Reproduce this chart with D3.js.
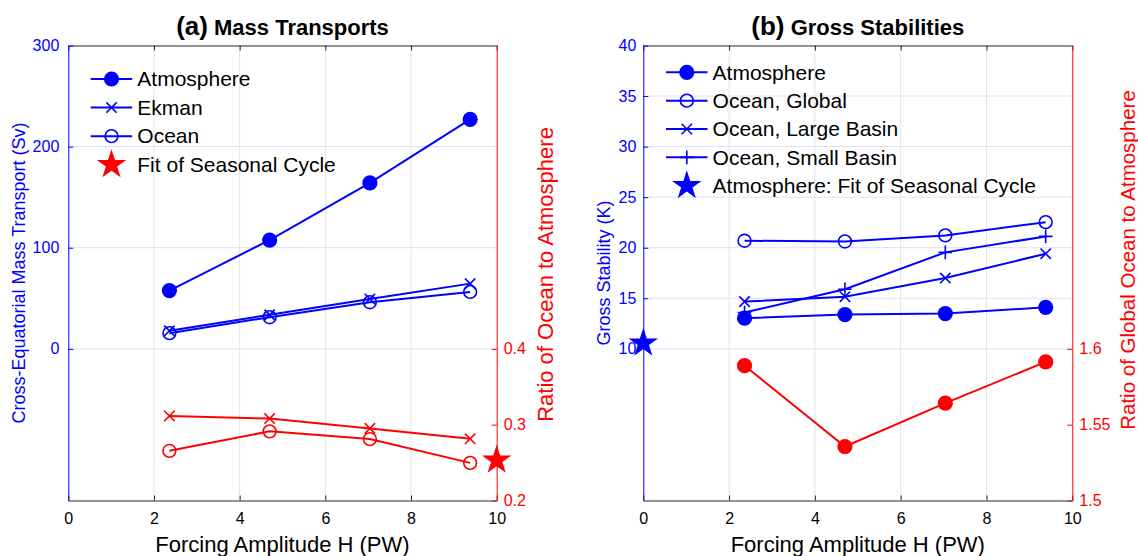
<!DOCTYPE html>
<html><head><meta charset="utf-8">
<script src="https://cdn.jsdelivr.net/npm/d3@7"></script>
<style>
body{margin:0;background:#fff}
svg{display:block}
text{font-family:"Liberation Sans",Arial,Helvetica,sans-serif}
</style>
</head><body>
<svg id="c" width="1138" height="556"></svg>
<script>
// ---------- data ----------
const forcingH = [2.36, 4.70, 7.04, 9.38];
const xTicks = [0, 2, 4, 6, 8, 10];

// panel (a) Mass Transports (Sv)
const atmTransport   = [57.6, 107.6, 164.1, 227.0];
const ekmanTransport = [17.8, 33.6, 49.3, 64.5];
const oceanTransport = [15.5, 31.3, 46.1, 56.3];
// ratios (right axis)
const ekmanRatio = [0.3115, 0.308, 0.2951, 0.2814];
const oceanRatio = [0.2655, 0.2912, 0.281, 0.2496];
const seasonalFitRatio = [{H: 10, v: 0.2531}];
const transportTicks = [0, 100, 200, 300];
const ratioTicksA = [0.2, 0.3, 0.4];

// panel (b) Gross Stabilities (K)
const atmStability         = [13.03, 13.39, 13.49, 14.11];
const oceanGlobalStability = [20.69, 20.62, 21.22, 22.53];
const largeBasinStability  = [14.67, 15.16, 17.0, 19.41];
const smallBasinStability  = [13.6, 15.89, 19.54, 21.12];
const stabilityRatio       = [1.5889, 1.5356, 1.5642, 1.5914];
const seasonalFitStability = [{H: 0, v: 10.56}];
const stabilityTicks = [10, 15, 20, 25, 30, 35, 40];
const ratioTicksB = [1.5, 1.55, 1.6];

// ---------- drawing ----------
const BLUE = '#0000ff', RED = '#ff0000', AX = '#262626';
const svg = d3.select('#c');

function marker(g, type, cx, cy, color) {
  if (type === 'dot') {
    g.append('circle').attr('cx', cx).attr('cy', cy).attr('r', 7.6).attr('fill', color);
  } else if (type === 'circle') {
    g.append('circle').attr('cx', cx).attr('cy', cy).attr('r', 6.4)
      .attr('fill', 'none').attr('stroke', color).attr('stroke-width', 1.6);
  } else if (type === 'x') {
    const h = 5.2;
    g.append('path').attr('d', `M${cx-h},${cy-h}L${cx+h},${cy+h}M${cx-h},${cy+h}L${cx+h},${cy-h}`)
      .attr('stroke', color).attr('stroke-width', 1.6).attr('fill', 'none');
  } else if (type === 'plus') {
    const h = 6.8;
    g.append('path').attr('d', `M${cx-h},${cy}L${cx+h},${cy}M${cx},${cy-h}L${cx},${cy+h}`)
      .attr('stroke', color).attr('stroke-width', 1.6).attr('fill', 'none');
  } else if (type === 'star') {
    const r = 15.5;
    g.append('path').attr('transform', `translate(${cx},${cy})`)
      .attr('d', d3.symbol().type(d3.symbolStar).size(r * r / 0.8908130915292852)())
      .attr('fill', color);
  }
}

function series(g, x, y, vals, type, color) {
  const pts = forcingH.map((h, i) => [x(h), y(vals[i])]);
  g.append('path').attr('d', d3.line()(pts)).attr('fill', 'none')
    .attr('stroke', color).attr('stroke-width', 2);
  pts.forEach(p => marker(g, type, p[0], p[1], color));
}

function drawPanel(p) {
  const x  = d3.scaleLinear().domain([0, 10]).range([p.x0, p.x1]);
  const yl = d3.scaleLinear().domain(p.leftDomain).range([p.y1, p.y0]);
  const yr = d3.scaleLinear().domain(p.rightDomain).range([p.y1, p.y0]);
  const g = svg.append('g');

  // grid
  g.selectAll(null).data(xTicks.filter(t => t > 0 && t < 10)).join('line')
    .attr('x1', d => x(d)).attr('x2', d => x(d)).attr('y1', p.y0).attr('y2', p.y1)
    .attr('stroke', '#e4e4e4').attr('stroke-width', 1);
  g.selectAll(null).data(p.leftTicks.filter(t => t < p.leftDomain[1])).join('line')
    .attr('x1', p.x0).attr('x2', p.x1).attr('y1', d => yl(d)).attr('y2', d => yl(d))
    .attr('stroke', '#dedeff').attr('stroke-width', 1);

  // axes
  const font = g => g.attr('font-size', 16);
  g.append('g').attr('transform', `translate(0,${p.y1})`).attr('color', AX)
    .call(d3.axisBottom(x).tickValues(xTicks).tickSizeInner(-5).tickSizeOuter(0).tickPadding(12))
    .call(font).call(a => a.selectAll('text').attr('fill', '#000'));
  g.append('g').attr('transform', `translate(0,${p.y0})`).attr('color', AX)
    .call(d3.axisTop(x).tickValues(xTicks).tickSizeInner(-5).tickSizeOuter(0).tickFormat(''));
  g.append('g').attr('transform', `translate(${p.x0},0)`).attr('color', BLUE)
    .call(d3.axisLeft(yl).tickValues(p.leftTicks).tickSizeInner(-5).tickSizeOuter(0).tickPadding(p.leftPad))
    .call(font);
  g.append('g').attr('transform', `translate(${p.x1},0)`).attr('color', RED)
    .call(d3.axisRight(yr).tickValues(p.rightTicks).tickSizeInner(-5).tickSizeOuter(0).tickPadding(7)
      .tickFormat(d3.format('')))
    .call(font);
  g.selectAll('.domain').attr('stroke-width', 1);

  // data
  p.left.forEach(s => series(g, x, yl, s.vals, s.type, BLUE));
  p.right.forEach(s => series(g, x, yr, s.vals, s.type, RED));
  p.stars.forEach(s => {
    const y = s.axis === 'left' ? yl : yr;
    s.data.forEach(d => marker(g, 'star', x(d.H), y(d.v), s.color));
  });

  // title
  const cx = (p.x0 + p.x1) / 2;
  const t = g.append('text').attr('x', cx).attr('y', 35).attr('text-anchor', 'middle')
    .attr('font-weight', 'bold').attr('fill', '#000');
  t.append('tspan').attr('font-size', 26).text(p.titleA);
  t.append('tspan').attr('font-size', 22).text(' ' + p.titleB);

  // axis labels
  g.append('text').attr('x', cx).attr('y', 551.5).attr('text-anchor', 'middle')
    .attr('font-size', 22).attr('fill', '#000').text('Forcing Amplitude H (PW)');
  g.append('text').attr('transform', `translate(${p.lblL.x},${p.lblL.y}) rotate(-90)`)
    .attr('text-anchor', 'middle').attr('font-size', 18).attr('fill', BLUE).text(p.lblL.text);
  g.append('text').attr('transform', `translate(${p.lblR.x},${p.lblR.y}) rotate(-90)`)
    .attr('text-anchor', 'middle').attr('font-size', p.lblR.size).attr('fill', RED).text(p.lblR.text);

  // legend
  const lg = g.append('g');
  p.legend.forEach((e, i) => {
    const y = p.leg.y + i * p.leg.dy;
    if (e.type !== 'star') {
      lg.append('line').attr('x1', p.leg.x).attr('x2', p.leg.x + 41.5).attr('y1', y).attr('y2', y)
        .attr('stroke', e.color).attr('stroke-width', 2);
    }
    marker(lg, e.type, p.leg.x + 20.8, y, e.color);
    lg.append('text').attr('x', p.leg.x + 46.6).attr('y', y + 7.3)
      .attr('font-size', 21).attr('fill', '#000').text(e.label);
  });
}

drawPanel({
  x0: 68.3, x1: 496.7, y0: 45.5, y1: 500.5,
  leftDomain: [-150, 300], leftTicks: transportTicks, leftPad: 9,
  rightDomain: [0.2, 0.8], rightTicks: ratioTicksA,
  left: [
    {vals: atmTransport, type: 'dot'},
    {vals: ekmanTransport, type: 'x'},
    {vals: oceanTransport, type: 'circle'}
  ],
  right: [
    {vals: ekmanRatio, type: 'x'},
    {vals: oceanRatio, type: 'circle'}
  ],
  stars: [{axis: 'right', data: seasonalFitRatio, color: RED}],
  titleA: '(a)', titleB: 'Mass Transports',
  lblL: {x: 24.5, y: 273, text: 'Cross-Equatorial Mass Transport (Sv)'},
  lblR: {x: 553, y: 274.5, size: 22, text: 'Ratio of Ocean to Atmosphere'},
  leg: {x: 90.7, y: 79, dy: 28.57},
  legend: [
    {type: 'dot', color: BLUE, label: 'Atmosphere'},
    {type: 'x', color: BLUE, label: 'Ekman'},
    {type: 'circle', color: BLUE, label: 'Ocean'},
    {type: 'star', color: RED, label: 'Fit of Seasonal Cycle'}
  ]
});

drawPanel({
  x0: 643.3, x1: 1072.3, y0: 45.5, y1: 500.5,
  leftDomain: [-5, 40], leftTicks: stabilityTicks, leftPad: 7,
  rightDomain: [1.5, 1.8], rightTicks: ratioTicksB,
  left: [
    {vals: atmStability, type: 'dot'},
    {vals: oceanGlobalStability, type: 'circle'},
    {vals: largeBasinStability, type: 'x'},
    {vals: smallBasinStability, type: 'plus'}
  ],
  right: [
    {vals: stabilityRatio, type: 'dot'}
  ],
  stars: [{axis: 'left', data: seasonalFitStability, color: BLUE}],
  titleA: '(b)', titleB: 'Gross Stabilities',
  lblL: {x: 609.5, y: 273, text: 'Gross Stability (K)'},
  lblR: {x: 1134.5, y: 260, size: 20.5, text: 'Ratio of Global Ocean to Atmosphere'},
  leg: {x: 666, y: 72.3, dy: 28.35},
  legend: [
    {type: 'dot', color: BLUE, label: 'Atmosphere'},
    {type: 'circle', color: BLUE, label: 'Ocean, Global'},
    {type: 'x', color: BLUE, label: 'Ocean, Large Basin'},
    {type: 'plus', color: BLUE, label: 'Ocean, Small Basin'},
    {type: 'star', color: BLUE, label: 'Atmosphere: Fit of Seasonal Cycle'}
  ]
});
</script>
</body></html>
